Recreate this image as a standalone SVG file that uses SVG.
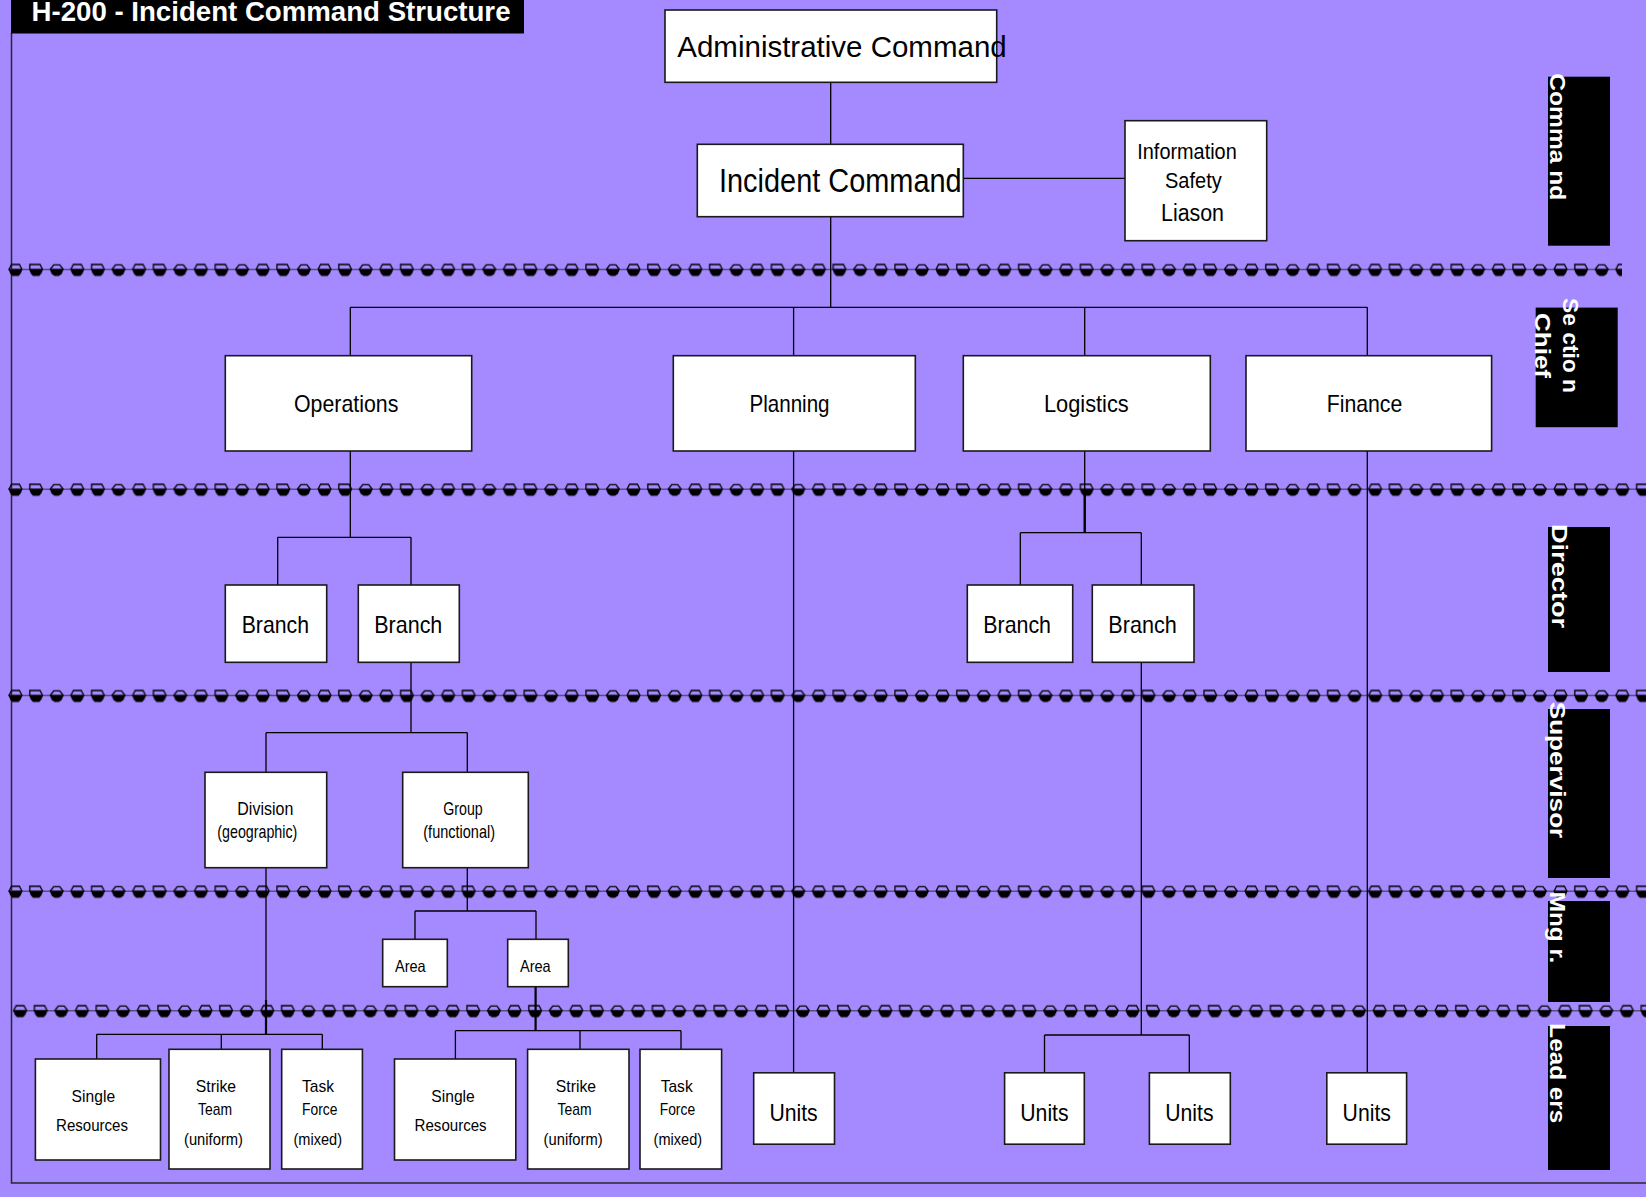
<svg xmlns="http://www.w3.org/2000/svg" width="1646" height="1197" viewBox="0 0 1646 1197">
  <defs>
    <style>
      .node rect { fill: #ffffff; stroke: #1a1a1a; stroke-width: 1.6; }
      .node text { font-family: "Liberation Sans", Arial, sans-serif; fill: #000; }
      .big { font-size: 30px; }
      .mid { font-size: 24px; }
      .sm  { font-size: 18.5px; }
      .xs  { font-size: 17px; }
      .conn line { stroke: #000; stroke-width: 1.3; }
      .tag rect { fill: #000; }
      .tag text { font-family: "Liberation Sans", Arial, sans-serif; font-weight: bold; font-size: 22px; fill: #fff; }
      .frame { stroke: #2a2a2a; stroke-width: 1.5; fill: none; }
      .sepline { stroke: #5a4f80; stroke-width: 1.4; }
      .cap { fill: none; stroke: #000; stroke-width: 1.3; stroke-linejoin: miter; }
      .base { fill: #000; }
    </style>
    <!-- three beads of the dotted level divider: outlined cap over a filled base -->
    <pattern id="beads" x="8" y="-8" width="61.8" height="18" patternUnits="userSpaceOnUse">
      <path class="cap" d="M1,8 L3.6,3 L11.4,3 L14,8"/>
      <path class="base" d="M0.4,7.6 L14.6,7.6 L12.8,12 L10.6,14.6 L4.4,14.6 L2.2,12 Z"/>
      <g transform="translate(20.6,0)">
        <path class="cap" d="M1.2,8 L1.2,3 L11.4,3 L14,8"/>
        <path class="base" d="M0.4,7.6 L14.6,7.6 L12.8,12 L10.6,14.6 L4.4,14.6 L2.2,12 Z"/>
      </g>
      <g transform="translate(41.2,0)">
        <path class="cap" d="M1,8 L4.5,3.4 L10.5,3.4 L14,8"/>
        <path class="base" d="M0.4,7.6 L14.6,7.6 L12.4,12.4 L9.6,14.6 L5.4,14.6 L2.6,12.4 Z"/>
      </g>
    </pattern>
  </defs>

  <!-- background and frame -->
  <rect x="0" y="0" width="1646" height="1197" fill="#a489ff"/>
  <path class="frame" d="M11.5,33 V1183 H1646"/>

  <!-- level dividers -->
  <g id="dividers">
    <g transform="translate(0,269.5)">
      <line class="sepline" x1="8" y1="0" x2="1622" y2="0"/>
      <rect x="8" y="-8" width="1614" height="18" fill="url(#beads)"/>
    </g>
    <g transform="translate(0,489.3)">
      <line class="sepline" x1="8" y1="0" x2="1646" y2="0"/>
      <rect x="8" y="-8" width="1638" height="18" fill="url(#beads)"/>
    </g>
    <g transform="translate(0,695.5)">
      <line class="sepline" x1="8" y1="0" x2="1646" y2="0"/>
      <rect x="8" y="-8" width="1638" height="18" fill="url(#beads)"/>
    </g>
    <g transform="translate(0,891.3)">
      <line class="sepline" x1="8" y1="0" x2="1646" y2="0"/>
      <rect x="8" y="-8" width="1638" height="18" fill="url(#beads)"/>
    </g>
    <g transform="translate(4.6,1010.7)">
      <line class="sepline" x1="8" y1="0" x2="1646" y2="0"/>
      <rect x="8" y="-8" width="1638" height="18" fill="url(#beads)"/>
    </g>
  </g>

  <!-- connectors -->
  <g id="connectors" class="conn">
    <line x1="830.7" y1="82.3" x2="830.7" y2="144.3"/>
    <line x1="961.7" y1="178.3" x2="1125" y2="178.3"/>
    <line x1="830.7" y1="216.7" x2="830.7" y2="307.3"/>
    <line x1="350.3" y1="307.3" x2="1367.3" y2="307.3"/>
    <line x1="350.3" y1="307.3" x2="350.3" y2="355.7"/>
    <line x1="793.6" y1="307.3" x2="793.6" y2="355.7"/>
    <line x1="1084.7" y1="307.3" x2="1084.7" y2="355.7"/>
    <line x1="1367.3" y1="307.3" x2="1367.3" y2="355.7"/>
    <!-- operations branches -->
    <line x1="350.3" y1="451" x2="350.3" y2="537.3"/>
    <line x1="277.7" y1="537.3" x2="411" y2="537.3"/>
    <line x1="277.7" y1="537.3" x2="277.7" y2="585"/>
    <line x1="411" y1="537.3" x2="411" y2="585"/>
    <!-- division / group -->
    <line x1="411" y1="662.3" x2="411" y2="732.7"/>
    <line x1="266" y1="732.7" x2="467.3" y2="732.7"/>
    <line x1="266" y1="732.7" x2="266" y2="772.3"/>
    <line x1="467.3" y1="732.7" x2="467.3" y2="772.3"/>
    <!-- areas -->
    <line x1="467.3" y1="867.7" x2="467.3" y2="911"/>
    <line x1="415" y1="911" x2="536" y2="911"/>
    <line x1="415" y1="911" x2="415" y2="939.3"/>
    <line x1="536" y1="911" x2="536" y2="939.3"/>
    <!-- division resources -->
    <line x1="266" y1="867.7" x2="266" y2="1034.3"/>
    <line x1="266" y1="1000" x2="266" y2="1034.3" style="stroke-width:2.2"/>
    <line x1="96.7" y1="1034.3" x2="322.3" y2="1034.3"/>
    <line x1="96.7" y1="1034.3" x2="96.7" y2="1059"/>
    <line x1="221.3" y1="1034.3" x2="221.3" y2="1049.3"/>
    <line x1="322.3" y1="1034.3" x2="322.3" y2="1049.3"/>
    <!-- area resources -->
    <line x1="535.6" y1="986.7" x2="535.6" y2="1030.7" style="stroke-width:2.2"/>
    <line x1="455.4" y1="1030.7" x2="681" y2="1030.7"/>
    <line x1="455.4" y1="1030.7" x2="455.4" y2="1059"/>
    <line x1="580" y1="1030.7" x2="580" y2="1049.3"/>
    <line x1="681" y1="1030.7" x2="681" y2="1049.3"/>
    <!-- planning units -->
    <line x1="793.6" y1="451" x2="793.6" y2="1072.8"/>
    <!-- logistics branches -->
    <line x1="1084.7" y1="451" x2="1084.7" y2="532.7"/>
    <line x1="1084.7" y1="489" x2="1084.7" y2="532.7" style="stroke-width:2.4"/>
    <line x1="1020.3" y1="532.7" x2="1141.3" y2="532.7"/>
    <line x1="1020.3" y1="532.7" x2="1020.3" y2="585"/>
    <line x1="1141.3" y1="532.7" x2="1141.3" y2="585"/>
    <line x1="1141.3" y1="662.3" x2="1141.3" y2="1035"/>
    <line x1="1044.5" y1="1035" x2="1189.3" y2="1035"/>
    <line x1="1044.5" y1="1035" x2="1044.5" y2="1072.8"/>
    <line x1="1189.3" y1="1035" x2="1189.3" y2="1072.8"/>
    <!-- finance units -->
    <line x1="1367.3" y1="451" x2="1367.3" y2="1072.8"/>
  </g>

  <!-- command level -->
  <g id="admin-command" class="node">
    <rect x="665" y="10" width="331.7" height="72.3"/>
    <text class="big" x="677.3" y="56.7" textLength="329.4" lengthAdjust="spacingAndGlyphs">Administrative  Command</text>
  </g>
  <g id="incident-command" class="node">
    <rect x="697.3" y="144.3" width="266" height="72.4"/>
    <text x="719" y="192.3" style="font-size:33px" textLength="242.7" lengthAdjust="spacingAndGlyphs">Incident  Command</text>
  </g>
  <g id="info-safety-liason" class="node">
    <rect x="1125" y="120.7" width="141.7" height="120"/>
    <text x="1137.3" y="159.3" style="font-size:22px" textLength="99.4" lengthAdjust="spacingAndGlyphs">Information</text>
    <text x="1165" y="187.7" style="font-size:22px" textLength="56.7" lengthAdjust="spacingAndGlyphs">Safety</text>
    <text x="1161" y="220.7" style="font-size:23px" textLength="63" lengthAdjust="spacingAndGlyphs">Liason</text>
  </g>

  <!-- section chiefs -->
  <g id="operations" class="node">
    <rect x="225.3" y="355.7" width="246.4" height="95.3"/>
    <text class="mid" x="294" y="412.3" textLength="104.3" lengthAdjust="spacingAndGlyphs">Operations</text>
  </g>
  <g id="planning" class="node">
    <rect x="673.3" y="355.7" width="242" height="95.3"/>
    <text class="mid" x="749.5" y="412.3" textLength="80" lengthAdjust="spacingAndGlyphs">Planning</text>
  </g>
  <g id="logistics" class="node">
    <rect x="963.3" y="355.7" width="247" height="95.3"/>
    <text class="mid" x="1044" y="412.3" textLength="84.7" lengthAdjust="spacingAndGlyphs">Logistics</text>
  </g>
  <g id="finance" class="node">
    <rect x="1246" y="355.7" width="245.6" height="95.3"/>
    <text class="mid" x="1326.7" y="412.3" textLength="75.6" lengthAdjust="spacingAndGlyphs">Finance</text>
  </g>

  <!-- directors -->
  <g id="ops-branch-1" class="node">
    <rect x="225.3" y="585" width="101.4" height="77.3"/>
    <text class="mid" x="241.7" y="633.3" textLength="67.3" lengthAdjust="spacingAndGlyphs">Branch</text>
  </g>
  <g id="ops-branch-2" class="node">
    <rect x="358.3" y="585" width="101" height="77.3"/>
    <text class="mid" x="374.3" y="633.3" textLength="68" lengthAdjust="spacingAndGlyphs">Branch</text>
  </g>
  <g id="log-branch-1" class="node">
    <rect x="967.3" y="585" width="105.4" height="77.3"/>
    <text class="mid" x="983.3" y="633.3" textLength="67.7" lengthAdjust="spacingAndGlyphs">Branch</text>
  </g>
  <g id="log-branch-2" class="node">
    <rect x="1092.3" y="585" width="101.7" height="77.3"/>
    <text class="mid" x="1108.3" y="633.3" textLength="68.4" lengthAdjust="spacingAndGlyphs">Branch</text>
  </g>

  <!-- supervisors -->
  <g id="division" class="node">
    <rect x="205" y="772.3" width="121.7" height="95.4"/>
    <text class="sm" x="237.3" y="815" textLength="56" lengthAdjust="spacingAndGlyphs">Division</text>
    <text class="sm" x="217.3" y="837.7" textLength="80" lengthAdjust="spacingAndGlyphs">(geographic)</text>
  </g>
  <g id="group" class="node">
    <rect x="402.7" y="772.3" width="125.6" height="95.4"/>
    <text class="sm" x="443.3" y="815" textLength="39.4" lengthAdjust="spacingAndGlyphs">Group</text>
    <text class="sm" x="423.3" y="837.7" textLength="71.7" lengthAdjust="spacingAndGlyphs">(functional)</text>
  </g>

  <!-- managers -->
  <g id="area-1" class="node">
    <rect x="382.7" y="939.3" width="64.6" height="47.4"/>
    <text x="395" y="972.3" style="font-size:16.5px" textLength="30.7" lengthAdjust="spacingAndGlyphs">Area</text>
  </g>
  <g id="area-2" class="node">
    <rect x="507.7" y="939.3" width="60.6" height="47.4"/>
    <text x="520" y="972.3" style="font-size:16.5px" textLength="30.7" lengthAdjust="spacingAndGlyphs">Area</text>
  </g>

  <!-- leaders under division -->
  <g id="single-resources-1" class="node">
    <rect x="35.4" y="1059" width="125.1" height="101"/>
    <text class="xs" x="71.6" y="1102.3" textLength="43.5" lengthAdjust="spacingAndGlyphs">Single</text>
    <text class="xs" x="56" y="1130.7" textLength="72" lengthAdjust="spacingAndGlyphs">Resources</text>
  </g>
  <g id="strike-team-1" class="node">
    <rect x="169" y="1049.3" width="101" height="119.7"/>
    <text class="xs" x="195.8" y="1091.7" textLength="40.2" lengthAdjust="spacingAndGlyphs">Strike</text>
    <text class="xs" x="198" y="1115" textLength="34" lengthAdjust="spacingAndGlyphs">Team</text>
    <text class="xs" x="184" y="1145" textLength="59" lengthAdjust="spacingAndGlyphs">(uniform)</text>
  </g>
  <g id="task-force-1" class="node">
    <rect x="281.7" y="1049.3" width="80.7" height="119.7"/>
    <text class="xs" x="302" y="1091.7" textLength="32" lengthAdjust="spacingAndGlyphs">Task</text>
    <text class="xs" x="302" y="1115" textLength="35.4" lengthAdjust="spacingAndGlyphs">Force</text>
    <text class="xs" x="293.5" y="1145" textLength="48.5" lengthAdjust="spacingAndGlyphs">(mixed)</text>
  </g>

  <!-- leaders under area -->
  <g id="single-resources-2" class="node">
    <rect x="394.5" y="1059" width="121.3" height="101"/>
    <text class="xs" x="431.3" y="1102.3" textLength="43.5" lengthAdjust="spacingAndGlyphs">Single</text>
    <text class="xs" x="414.6" y="1130.7" textLength="72" lengthAdjust="spacingAndGlyphs">Resources</text>
  </g>
  <g id="strike-team-2" class="node">
    <rect x="527.6" y="1049.3" width="101.4" height="119.7"/>
    <text class="xs" x="555.8" y="1091.7" textLength="40.2" lengthAdjust="spacingAndGlyphs">Strike</text>
    <text class="xs" x="557.6" y="1115" textLength="34" lengthAdjust="spacingAndGlyphs">Team</text>
    <text class="xs" x="543.6" y="1145" textLength="59" lengthAdjust="spacingAndGlyphs">(uniform)</text>
  </g>
  <g id="task-force-2" class="node">
    <rect x="640" y="1049.3" width="81.6" height="119.7"/>
    <text class="xs" x="660.7" y="1091.7" textLength="32" lengthAdjust="spacingAndGlyphs">Task</text>
    <text class="xs" x="659.7" y="1115" textLength="35.4" lengthAdjust="spacingAndGlyphs">Force</text>
    <text class="xs" x="653.6" y="1145" textLength="48.5" lengthAdjust="spacingAndGlyphs">(mixed)</text>
  </g>

  <!-- units -->
  <g id="planning-units" class="node">
    <rect x="753.7" y="1072.8" width="80.8" height="71.4"/>
    <text class="mid" x="769.4" y="1121" textLength="48.3" lengthAdjust="spacingAndGlyphs">Units</text>
  </g>
  <g id="logistics-units-1" class="node">
    <rect x="1004.6" y="1072.8" width="79.7" height="71.4"/>
    <text class="mid" x="1020.3" y="1121" textLength="48.3" lengthAdjust="spacingAndGlyphs">Units</text>
  </g>
  <g id="logistics-units-2" class="node">
    <rect x="1149.4" y="1072.8" width="80.9" height="71.4"/>
    <text class="mid" x="1165.2" y="1121" textLength="48.3" lengthAdjust="spacingAndGlyphs">Units</text>
  </g>
  <g id="finance-units" class="node">
    <rect x="1326.8" y="1072.8" width="79.8" height="71.4"/>
    <text class="mid" x="1342.6" y="1121" textLength="48.3" lengthAdjust="spacingAndGlyphs">Units</text>
  </g>

  <!-- level tags on the right -->
  <g id="tag-command" class="tag">
    <rect x="1548" y="76.7" width="62" height="169"/>
    <text transform="translate(1550,73.3) rotate(90)" textLength="127" lengthAdjust="spacingAndGlyphs">Comma nd</text>
  </g>
  <g id="tag-section-chief" class="tag">
    <rect x="1535.7" y="307.6" width="82" height="119.6"/>
    <text transform="translate(1563.3,298) rotate(90)" textLength="95" lengthAdjust="spacingAndGlyphs">Se ctio n</text>
    <text transform="translate(1535,313) rotate(90)" textLength="65" lengthAdjust="spacingAndGlyphs">Chief</text>
  </g>
  <g id="tag-director" class="tag">
    <rect x="1548" y="527" width="62" height="145"/>
    <text transform="translate(1551.5,524) rotate(90)" textLength="104" lengthAdjust="spacingAndGlyphs">Director</text>
  </g>
  <g id="tag-supervisor" class="tag">
    <rect x="1548" y="709" width="62" height="169"/>
    <text transform="translate(1550,701.7) rotate(90)" textLength="136.6" lengthAdjust="spacingAndGlyphs">Supervisor</text>
  </g>
  <g id="tag-manager" class="tag">
    <rect x="1548" y="901" width="62" height="101"/>
    <text transform="translate(1550,891.7) rotate(90)" textLength="71.6" lengthAdjust="spacingAndGlyphs">Mng r.</text>
  </g>
  <g id="tag-leaders" class="tag">
    <rect x="1548" y="1026" width="62" height="144"/>
    <text transform="translate(1550,1023.3) rotate(90)" textLength="100" lengthAdjust="spacingAndGlyphs">Lead ers</text>
  </g>

  <!-- title banner -->
  <g id="title">
    <rect x="11" y="0" width="513" height="33.5" fill="#000"/>
    <text x="31.5" y="21" font-family="Liberation Sans, Arial, sans-serif" font-weight="bold" font-size="27" fill="#fff" textLength="479" lengthAdjust="spacingAndGlyphs">H-200 - Incident Command Structure</text>
  </g>
</svg>
